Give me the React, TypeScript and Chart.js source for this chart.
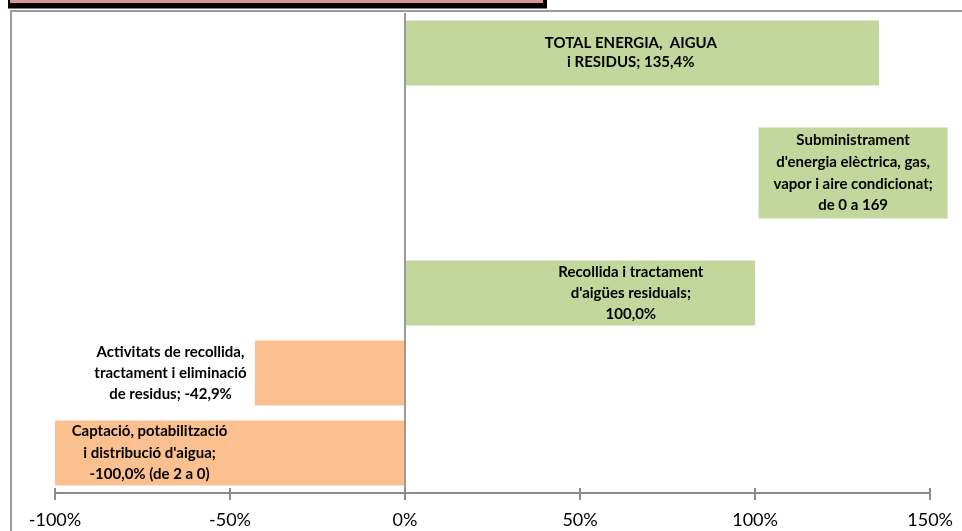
import React, { useEffect, useRef } from "react";
import { Chart, registerables } from "chart.js";

Chart.register(...registerables);

// ---- data ----
const categories = [
  "TOTAL ENERGIA, AIGUA i RESIDUS",
  "",
  "",
  "Recollida i tractament d'aigües residuals",
  "Activitats de recollida, tractament i eliminació de residus",
  "Captació, potabilització i distribució d'aigua",
];
const values: (number | null)[] = [135.4, null, null, 100.0, -42.9, -100.0];
const barColors = ["#C3D69B", "#C3D69B", "#C3D69B", "#C3D69B", "#FAC090", "#FAC090"];
const tickValues = [-100, -50, 0, 50, 100, 150];

// Subministrament box (value "de 0 a 169", shown as a label box)
const subRange = [101, 155];
const subSlot = 1.5;

const labelLines: string[][] = [
  ["TOTAL ENERGIA,  AIGUA", "i RESIDUS; 135,4%"],
  ["Subministrament", "d'energia elèctrica, gas,", "vapor i aire condicionat;", "de 0 a 169"],
  ["Recollida i tractament", "d'aigües residuals;", "100,0%"],
  ["Activitats de recollida,", "tractament i eliminació", "de residus; -42,9%"],
  ["Captació, potabilització", "i distribució d'aigua;", "-100,0% (de 2 a 0)"],
];
const labelX = [64.5, 128, 64.5, -67, -73];
const labelSlot = [0, 1.5, 3, 4, 5];
const labelLineH = [19, 21.7, 21, 20.8, 21.5];

export default function App() {
  const ref = useRef<HTMLCanvasElement>(null);

  useEffect(() => {
    if (!ref.current) return;
    const deco = {
      id: "deco",
      beforeDraw(chart: any) {
        const c = chart.ctx;
        c.save();
        c.fillStyle = "#000";
        c.fillRect(8, 0, 539, 8.5);
        c.fillStyle = "#DA9694";
        c.fillRect(10, 0, 533, 3);
        c.strokeStyle = "#9a9a9a";
        c.lineWidth = 2;
        c.beginPath();
        c.moveTo(11, 531);
        c.lineTo(11, 11);
        c.lineTo(962, 11);
        c.stroke();
        // Subministrament box
        const xs = chart.scales.x;
        const ys = chart.scales.y;
        const x0 = xs.getPixelForValue(subRange[0]);
        const x1 = xs.getPixelForValue(subRange[1]);
        const yc = ys.getPixelForValue(subSlot);
        c.fillStyle = "#C3D69B";
        c.fillRect(x0, yc - 45.5, x1 - x0, 91);
        c.restore();
      },
      afterDraw(chart: any) {
        const c = chart.ctx;
        const xs = chart.scales.x;
        const ys = chart.scales.y;
        const bottom = chart.chartArea.bottom;
        c.save();
        c.strokeStyle = "#8c8c8c";
        c.lineWidth = 2;
        tickValues.forEach((v) => {
          const px = Math.round(xs.getPixelForValue(v));
          c.beginPath();
          c.moveTo(px, bottom - 5);
          c.lineTo(px, bottom);
          c.stroke();
        });
        c.fillStyle = "#000";
        c.font = "bold 15px Lato";
        c.textAlign = "center";
        c.textBaseline = "middle";
        labelLines.forEach((lines, i) => {
          const px = xs.getPixelForValue(labelX[i]);
          const py = ys.getPixelForValue(labelSlot[i]);
          const lh = labelLineH[i];
          const start = py - ((lines.length - 1) * lh) / 2;
          lines.forEach((t, k) => c.fillText(t, px, start + k * lh));
        });
        c.restore();
      },
    };

    const chart = new Chart(ref.current, {
      type: "bar",
      data: {
        labels: categories,
        datasets: [
          {
            data: values as any,
            backgroundColor: barColors,
            barPercentage: 0.81,
            categoryPercentage: 1,
          },
        ],
      },
      options: {
        indexAxis: "y",
        animation: false,
        responsive: false,
        maintainAspectRatio: false,
        layout: { padding: { left: 55, right: 30, top: 13, bottom: 0 } },
        plugins: { legend: { display: false }, tooltip: { enabled: false } },
        scales: {
          y: { display: false },
          x: {
            type: "linear",
            min: -100,
            max: 150,
            afterBuildTicks: (s: any) => {
              s.ticks = tickValues.map((v) => ({ value: v }));
            },
            afterFit: (s: any) => {
              s.height = 38;
            },
            ticks: {
              callback: (v: any) => v + "%",
              color: "#000",
              font: { family: "Lato", size: 18 },
              padding: 9,
              maxRotation: 0,
            },
            grid: {
              drawOnChartArea: true,
              color: (ctx: any) => (ctx.tick && ctx.tick.value === 0 ? "#9a9a9a" : "rgba(0,0,0,0)"),
              tickColor: "#8c8c8c",
              tickLength: 7,
              lineWidth: 2,
            },
            border: { display: true, color: "#8c8c8c", width: 2 },
          },
        },
      },
      plugins: [deco],
    });
    return () => chart.destroy();
  }, []);

  return (
    <div style={{ position: "absolute", left: 0, top: 0, width: 962, height: 531, background: "#fff" }}>
      <canvas ref={ref} width={962} height={531} style={{ width: 962, height: 531 }} />
    </div>
  );
}
